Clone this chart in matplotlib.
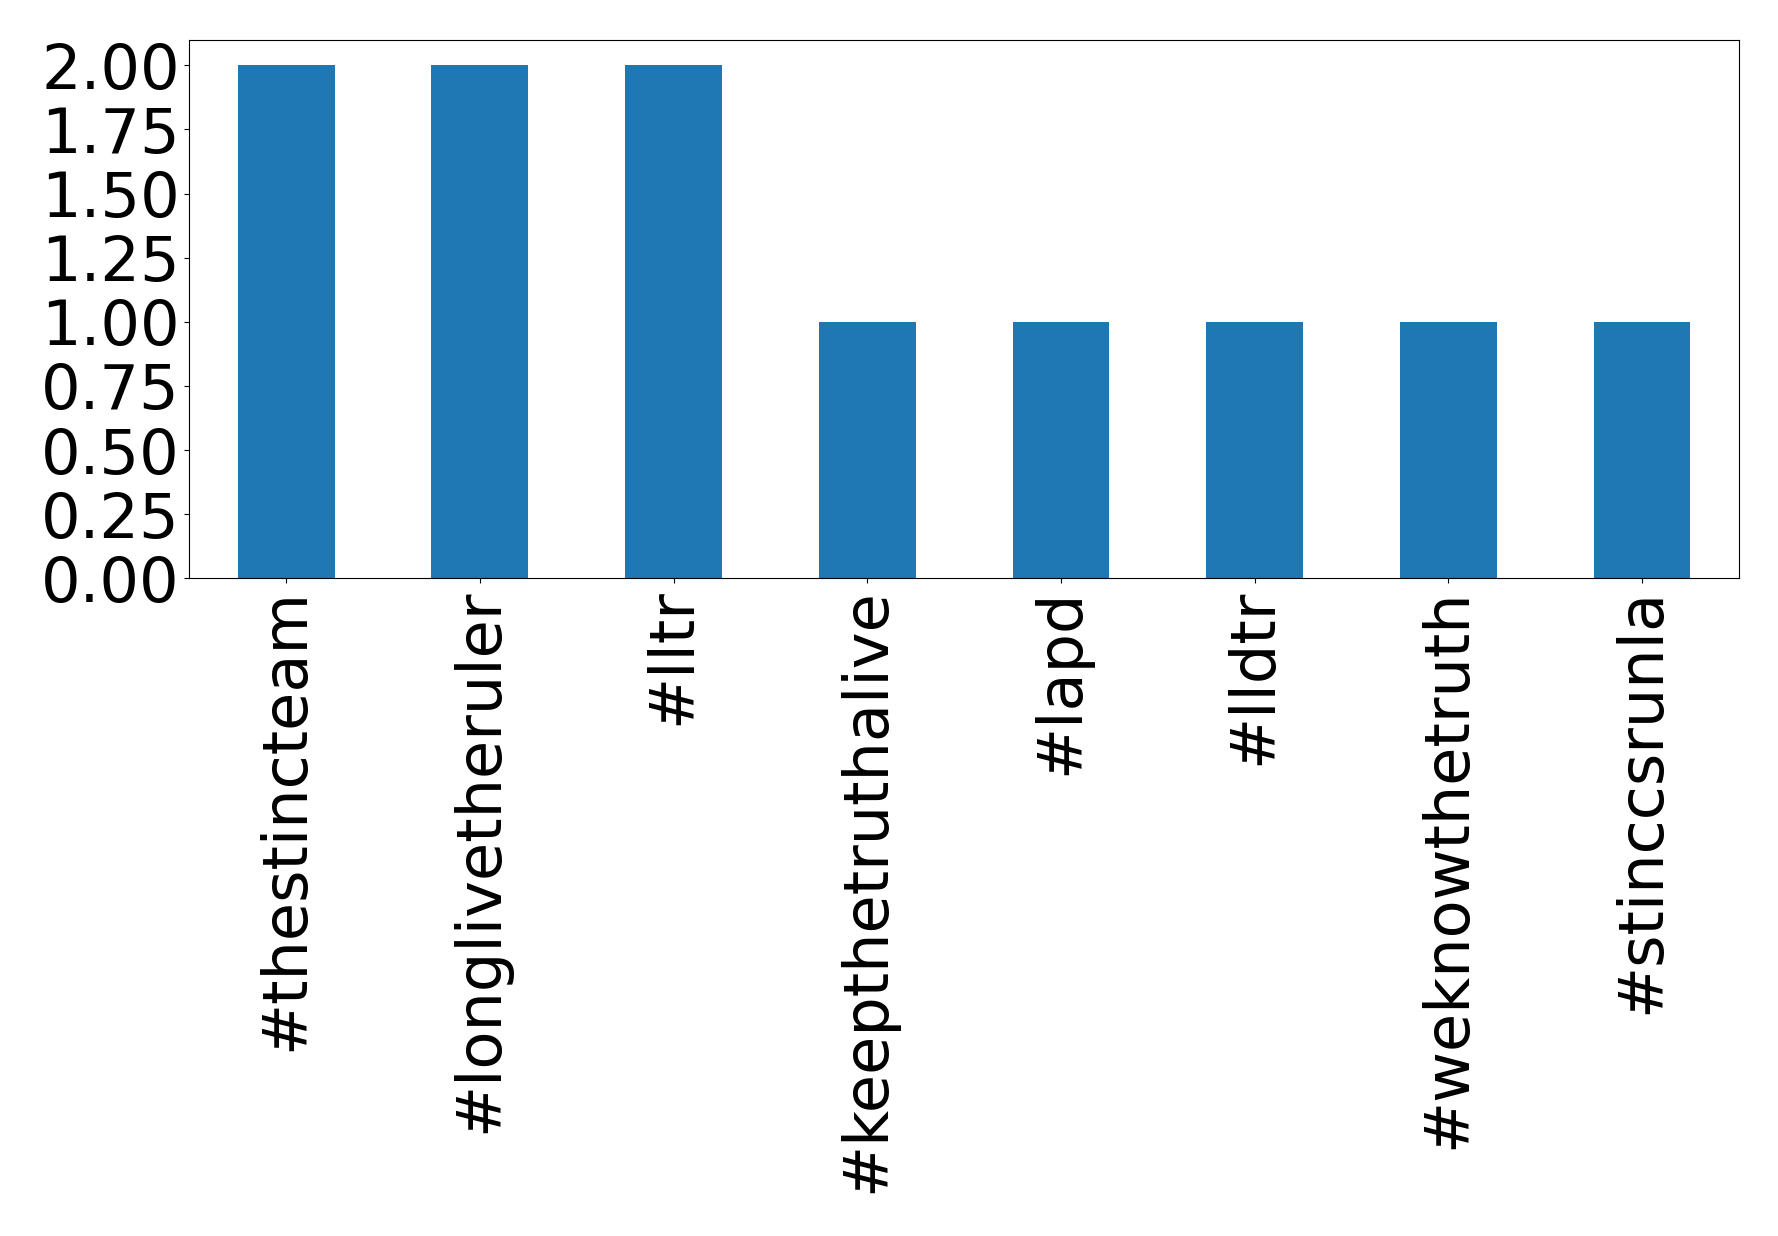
import matplotlib
matplotlib.use("Agg")
import matplotlib.pyplot as plt
import pandas as pd

hashtags = ["#thestincteam", "#longlivetheruler", "#lltr", "#keepthetruthalive",
            "#lapd", "#lldtr", "#weknowthetruth", "#stinccsrunla"]
counts = [2, 2, 2, 1, 1, 1, 1, 1]

s = pd.Series(counts, index=hashtags)

fig = plt.figure(figsize=(17.78, 12.36), dpi=100)
ax = fig.add_subplot(111)
s.plot(kind="bar", ax=ax, color="#1f77b4", fontsize=44.8)
ax.set_ylim(0, 2.1)
ax.tick_params(axis="x", labelrotation=90)
fig.subplots_adjust(left=0.1065, right=0.978, top=0.968, bottom=0.532)
fig.savefig("out.png", dpi=100)
